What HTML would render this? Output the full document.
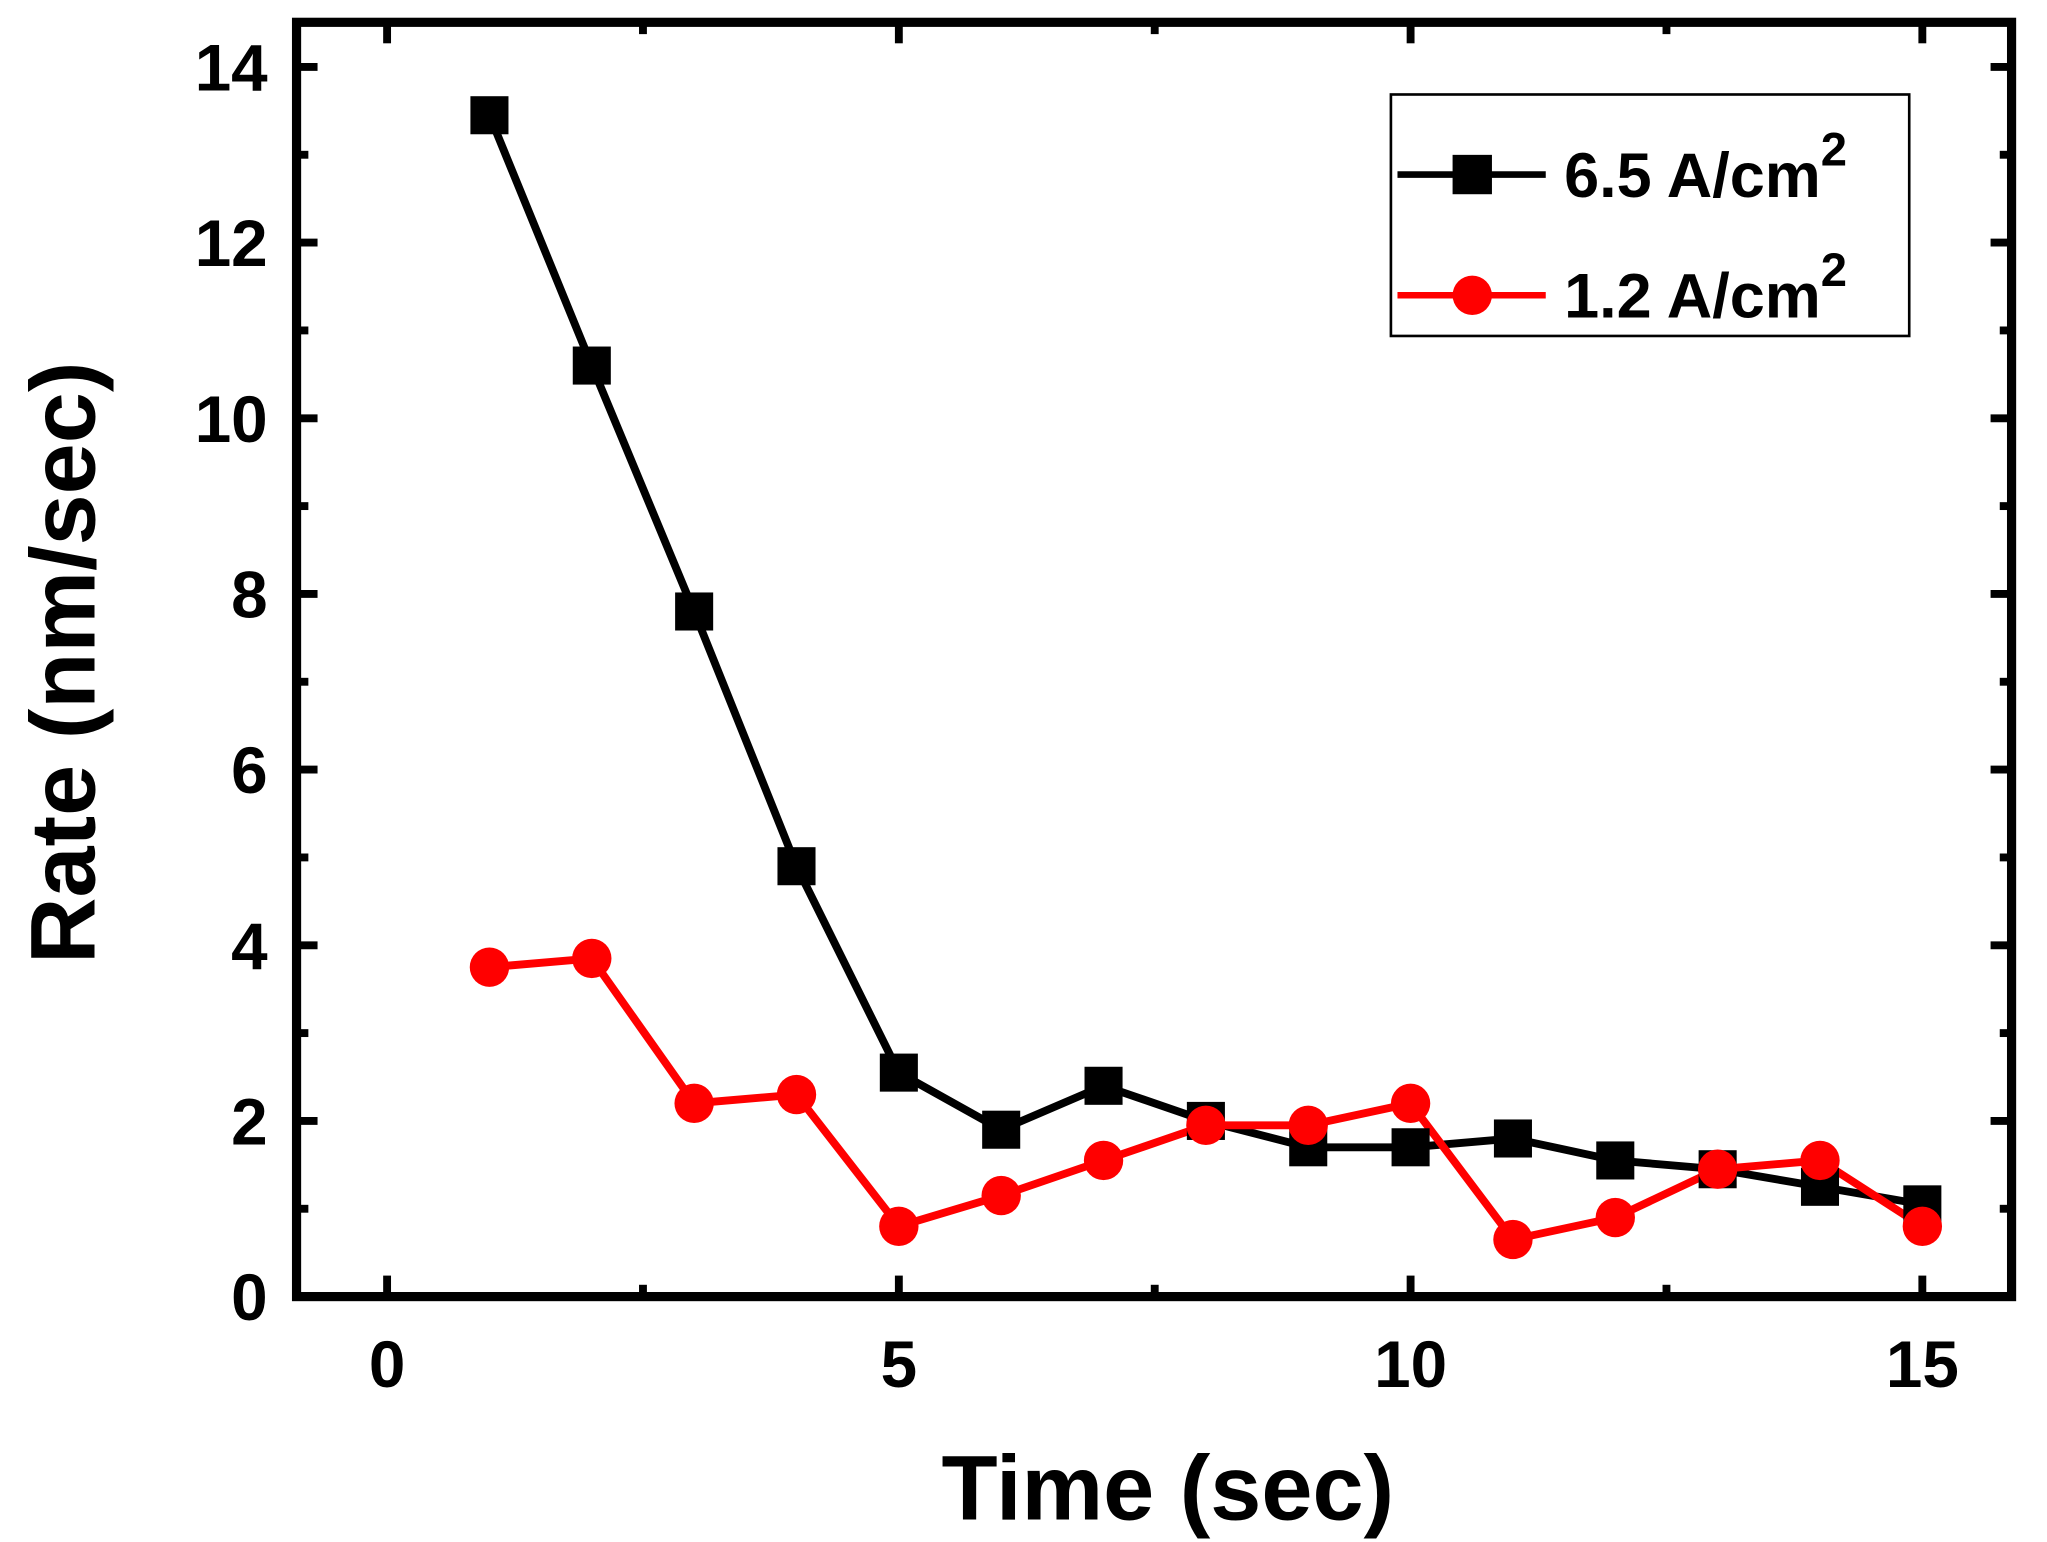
<!DOCTYPE html>
<html><head><meta charset="utf-8"><style>
html,body{margin:0;padding:0;background:#fff;}
svg{display:block;}
text{font-family:"Liberation Sans",Arial,sans-serif;font-weight:bold;}
</style></head><body>
<svg id="chart" width="2047" height="1542" viewBox="0 0 1560 1175" preserveAspectRatio="none" xmlns="http://www.w3.org/2000/svg">
<g id="axes"></g>
<g id="series"></g>
<g id="legend">
<rect x="1060" y="72" width="395" height="184" fill="#fff" stroke="#000" stroke-width="2"/>
<line x1="1065" y1="133" x2="1178" y2="133" stroke="#000" stroke-width="5"/>
<rect x="1107" y="118" width="30" height="30" fill="#000"/>
<text x="1192" y="150" font-size="48">6.5 A/cm<tspan font-size="36" dy="-24">2</tspan></text>
<line x1="1065" y1="225" x2="1178" y2="225" stroke="#f00" stroke-width="5"/>
<circle cx="1122" cy="225" r="15" fill="#f00"/>
<text x="1192" y="242" font-size="48">1.2 A/cm<tspan font-size="36" dy="-24">2</tspan></text>
</g>
<text x="890" y="1158" font-size="70" text-anchor="middle">Time (sec)</text>
<text transform="translate(72,505) rotate(-90)" font-size="70" text-anchor="middle">Rate (nm/sec)</text>
</svg>
<script>
const times=[1,2,3,4,5,6,7,8,9,10,11,12,13,14,15];
const seriesHigh=[13.45,10.6,7.8,4.9,2.55,1.9,2.4,2.0,1.7,1.7,1.8,1.55,1.45,1.25,1.05];
const seriesLow=[3.75,3.85,2.2,2.3,0.8,1.15,1.55,1.95,1.95,2.2,0.65,0.9,1.45,1.55,0.8];
const xTicks=[0,5,10,15];
const yTicks=[0,2,4,6,8,10,12,14];
const L=226,R=1533,T=17,B=988;
function X(v){return 295+v*(1465-295)/15;}
function Y(v){return 988-v*(988-51)/14;}
const NS="http://www.w3.org/2000/svg";
function mk(tag,attrs,parent){const e=document.createElementNS(NS,tag);for(const k in attrs)e.setAttribute(k,attrs[k]);parent.appendChild(e);return e;}
const ax=document.getElementById('axes');
const frame=mk('rect',{x:L,y:T,width:R-L,height:B-T,fill:'none',stroke:'#000','stroke-width':7},ax);


for(let k=-1;k<=7;k++){
  const v=k*2.5;const x=X(v); if(x<L+4||x>R-4)continue;
  const major=(k%2===0);
  const len=major?16:9;
  mk('line',{x1:x,y1:B,x2:x,y2:B-len,stroke:'#000','stroke-width':6},ax);
  mk('line',{x1:x,y1:T,x2:x,y2:T+len,stroke:'#000','stroke-width':6},ax);
}
xTicks.forEach(v=>{const t=mk('text',{x:X(v),y:1057,'font-size':50,'text-anchor':'middle'},ax);t.textContent=v;

});
for(let v=1;v<=14;v++){
  const y=Y(v);const len=(v%2===0)?16:9;
  mk('line',{x1:L,y1:y,x2:L+len,y2:y,stroke:'#000','stroke-width':6},ax);
  mk('line',{x1:R,y1:y,x2:R-len,y2:y,stroke:'#000','stroke-width':6},ax);
}
yTicks.forEach(v=>{const t=mk('text',{x:204,y:Y(v)+18,'font-size':50,'text-anchor':'end'},ax);t.textContent=v;

});
const sg=document.getElementById('series');
function drawLine(vals,color,name){
  const pts=vals.map((v,i)=>X(times[i])+','+Y(v)).join(' ');
  const pl=mk('polyline',{points:pts,fill:'none',stroke:color,'stroke-width':6},sg);
  
  
}
drawLine(seriesHigh,'#000','series-6.5');
drawLine(seriesLow,'#f00','series-1.2');
seriesHigh.forEach((v,i)=>{const r=mk('rect',{x:X(times[i])-14.5,y:Y(v)-14.5,width:29,height:29,fill:'#000'},sg);

});
seriesLow.forEach((v,i)=>{const c=mk('circle',{cx:X(times[i]),cy:Y(v),r:15,fill:'#f00'},sg);

});
</script>
</body></html>
